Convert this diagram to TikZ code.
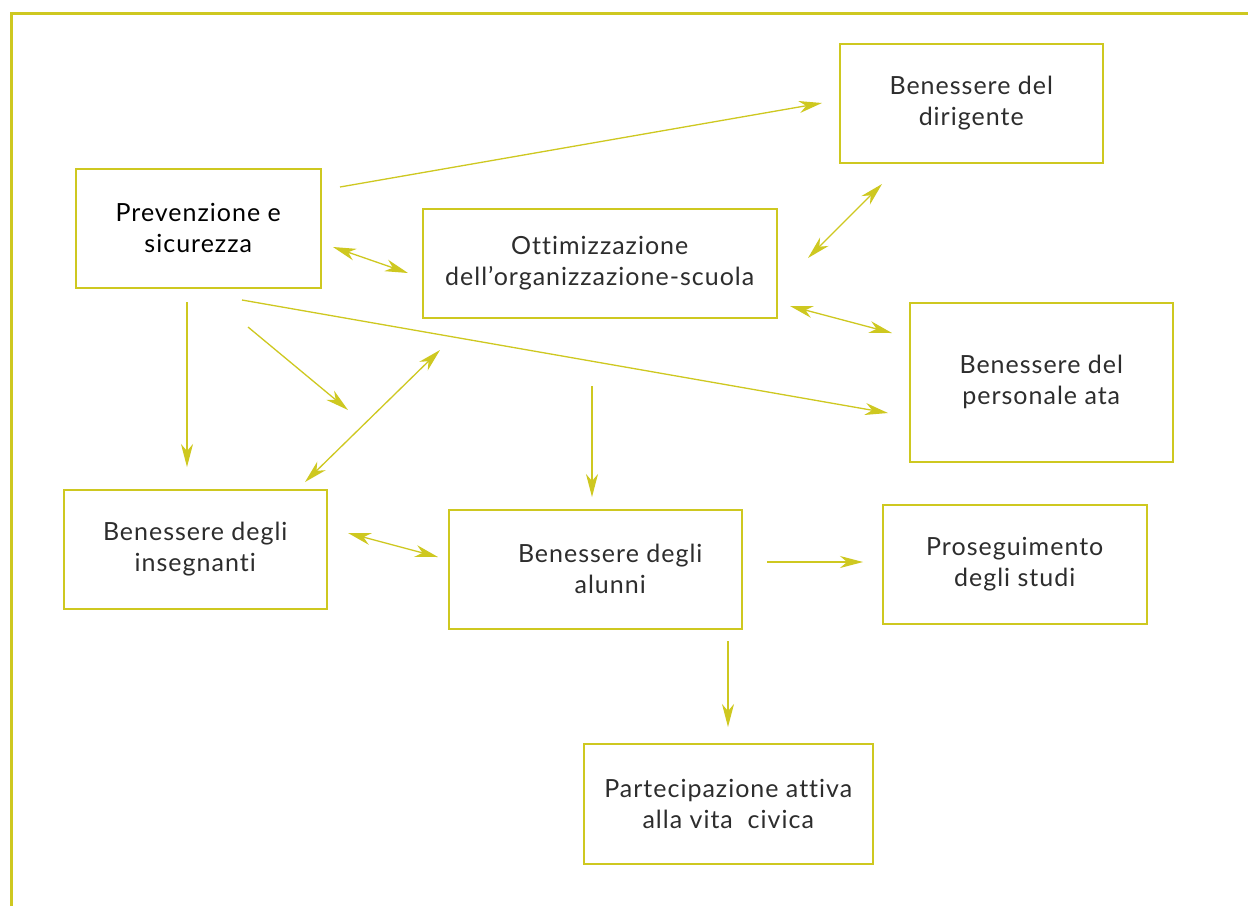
\documentclass[tikz,border=0pt]{standalone}
\usepackage{fontspec}
\setmainfont{Lato}[LetterSpace=4,Ligatures=NoCommon]
\usetikzlibrary{arrows.meta}
\definecolor{lime}{RGB}{206,200,32}
\definecolor{ink}{RGB}{45,45,45}
\begin{document}
\begin{tikzpicture}[x=1pt,y=-1pt,
  box/.style={draw=lime,line width=1.5pt,inner sep=0pt,anchor=north west},
  txt/.style={text=ink,align=center,font=\fontsize{25}{31}\selectfont},
  conn/.style={draw=lime,line width=1.3pt,-{Stealth[length=23pt,width=12pt,inset=7pt]}},
  conn2/.style={draw=lime,line width=1.3pt,{Stealth[length=23pt,width=12pt,inset=7pt]}-{Stealth[length=23pt,width=12pt,inset=7pt]}}]
\useasboundingbox (0,0) rectangle (1248,906);
\fill[white] (0,0) rectangle (1248,906);
% outer frame: top and left edges only
\draw[lime,line width=3pt] (11,906) -- (11,13) -- (1248,13);

% boxes
\node[box,minimum width=245pt,minimum height=119pt] (prev) at (75,168) {};
\node[box,minimum width=263pt,minimum height=119pt] (dir) at (839,43) {};
\node[box,minimum width=354pt,minimum height=109pt] (ott) at (422,208) {};
\node[box,minimum width=263pt,minimum height=159pt] (ata) at (909,302) {};
\node[box,minimum width=263pt,minimum height=119pt] (ins) at (63,489) {};
\node[box,minimum width=293pt,minimum height=119pt] (alu) at (448,509) {};
\node[box,minimum width=264pt,minimum height=119pt] (pro) at (882,504) {};
\node[box,minimum width=289pt,minimum height=120pt] (par) at (583,743) {};

% labels
\node[txt,text=black] (prevt) at (prev.center) {Prevenzione e\\sicurezza};
\node[txt] (dirt) at (dir.center) {Benessere del\\dirigente};
\node[txt] (ottt) at (ott.center) {Ottimizzazione\\dell’organizzazione-scuola};
\node[txt] (atat) at (ata.center) {Benessere del\\personale ata};
\node[txt] (inst) at (ins.center) {Benessere degli\\insegnanti};
\node[txt] (alut) at ([xshift=15pt]alu.center) {Benessere degli\\alunni};
\node[txt] (prot) at (pro.center) {Proseguimento\\degli studi};
\node[txt] (part) at (par.center) {Partecipazione attiva\\alla vita\ \ civica};

% connector end points
\coordinate (a1) at (340,187);  \coordinate (a2) at (822,103);
\coordinate (b1) at (333,247);  \coordinate (b2) at (408,273);
\coordinate (c1) at (808,258);  \coordinate (c2) at (882,184);
\coordinate (d1) at (790,306);  \coordinate (d2) at (892,333);
\coordinate (e1) at (242,300);  \coordinate (e2) at (888,413);
\coordinate (f1) at (187,302);  \coordinate (f2) at (187,467);
\coordinate (g1) at (248,327);  \coordinate (g2) at (348,410);
\coordinate (h1) at (305,482);  \coordinate (h2) at (440,350);
\coordinate (i1) at (592,386);  \coordinate (i2) at (592,497);
\coordinate (j1) at (348,533);  \coordinate (j2) at (438,557);
\coordinate (k1) at (767,562);  \coordinate (k2) at (863,562);
\coordinate (l1) at (728,641);  \coordinate (l2) at (728,727);

% connectors
\draw[conn] (a1) -- (a2);
\draw[conn2] (b1) -- (b2);
\draw[conn2] (c1) -- (c2);
\draw[conn2] (d1) -- (d2);
\draw[conn] (e1) -- (e2);
\draw[conn] (f1) -- (f2);
\draw[conn] (g1) -- (g2);
\draw[conn2] (h1) -- (h2);
\draw[conn] (i1) -- (i2);
\draw[conn2] (j1) -- (j2);
\draw[conn] (k1) -- (k2);
\draw[conn] (l1) -- (l2);
\end{tikzpicture}
\end{document}
